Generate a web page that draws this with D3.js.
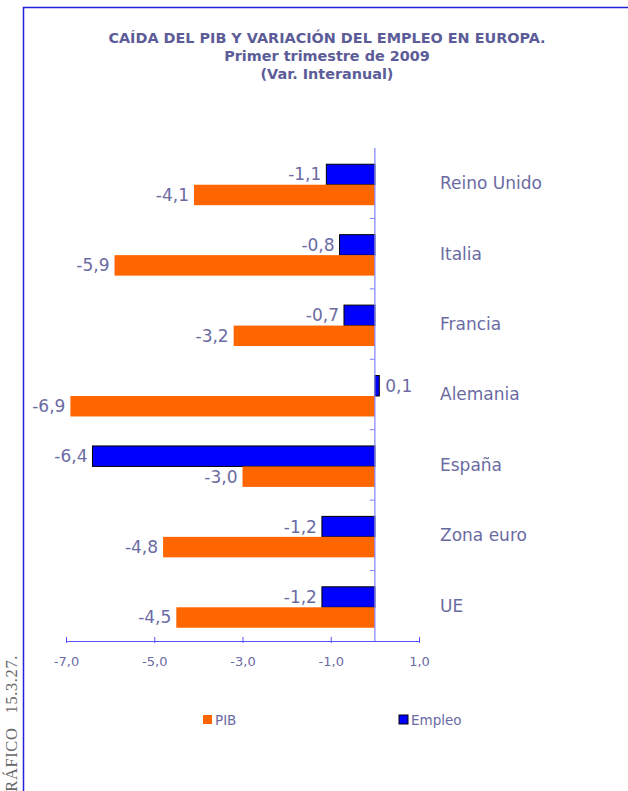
<!DOCTYPE html>
<html>
<head>
<meta charset="utf-8">
<script src="https://cdn.jsdelivr.net/npm/d3@7"></script>
<style>
  body { margin: 0; background: #fff; }
  svg { display: block; font-family: "DejaVu Sans", Verdana, sans-serif; }
</style>
</head>
<body>
<div id="chart"></div>
<script>
(function() {
    const countries = ['Reino Unido', 'Italia', 'Francia', 'Alemania', 'España', 'Zona euro', 'UE'];
    const empleo = [-1.1, -0.8, -0.7, 0.1, -6.4, -1.2, -1.2];
    const pib = [-4.1, -5.9, -3.2, -6.9, -3.0, -4.8, -4.5];
    const xTicks = [-7, -5, -3, -1, 1];
    const titleLines = ['CAÍDA DEL PIB Y VARIACIÓN DEL EMPLEO EN EUROPA.', 'Primer trimestre de 2009', '(Var. Interanual)'];

    const W = 628, H = 791;
    const textColor = '#6b6ba3';
    const fmt = v => d3.format('.1f')(v).replace('.', ',').replace('\u2212', '-');

    let svg = d3.select('#chart')
        .append('svg')
        .attr('width', W)
        .attr('height', H);

    // frame
    svg.append('path')
        .attr('d', 'M23.5,' + H + 'V7.5H' + W)
        .attr('fill', 'none')
        .attr('stroke', '#2222dd')
        .attr('stroke-width', 1.5);

    svg.append('text')
        .attr('transform', 'translate(17,655) rotate(-90)')
        .attr('text-anchor', 'end')
        .attr('font-family', '"Liberation Serif", "DejaVu Serif", serif')
        .attr('font-size', 16.5)
        .attr('fill', '#666')
        .attr('letter-spacing', 0.6)
        .attr('xml:space', 'preserve')
        .text('GRÁFICO   15.3.27.');

    // title
    svg.selectAll('.title')
        .data(titleLines)
        .enter()
        .append('text')
        .attr('class', 'title')
        .attr('x', 327)
        .attr('y', (d, i) => 43 + i * 18)
        .attr('text-anchor', 'middle')
        .attr('font-size', 14.4)
        .attr('font-weight', 'bold')
        .attr('fill', '#5c5c98')
        .text(d => d);

    let x = d3.scaleLinear()
        .domain([-7, 1])
        .range([66, 419]);

    let y = d3.scaleBand()
        .domain(countries)
        .range([148, 641])
        .paddingInner(0)
        .paddingOuter(0);

    let inner = d3.scaleBand()
        .domain(['empleo', 'pib'])
        .range([1.5, y.bandwidth() + 1.5])
        .paddingOuter(0.72)
        .paddingInner(0);

    const series = [
        { key: 'empleo', values: empleo, fill: '#0000ff', stroke: '#000' },
        { key: 'pib', values: pib, fill: '#ff6600', stroke: 'none' }
    ];

    series.forEach(s => {
        let g = svg.append('g');
        g.selectAll('rect')
            .data(countries)
            .enter()
            .append('rect')
            .attr('x', (d, i) => x(Math.min(0, s.values[i])))
            .attr('y', d => y(d) + inner(s.key))
            .attr('width', (d, i) => Math.abs(x(s.values[i]) - x(0)))
            .attr('height', inner.bandwidth())
            .attr('fill', s.fill)
            .attr('stroke', s.stroke)
            .attr('stroke-width', 1);
        g.selectAll('text')
            .data(countries)
            .enter()
            .append('text')
            .attr('x', (d, i) => s.values[i] < 0 ? x(s.values[i]) - 5 : x(s.values[i]) + 6)
            .attr('y', d => y(d) + inner(s.key) + inner.bandwidth() / 2)
            .attr('dy', '0.35em')
            .attr('text-anchor', (d, i) => s.values[i] < 0 ? 'end' : 'start')
            .attr('font-size', 17)
            .attr('fill', textColor)
            .text((d, i) => fmt(s.values[i]));
    });

    // x axis
    let xAxis = svg.append('g')
        .attr('transform', 'translate(0,641)')
        .call(d3.axisBottom(x).tickValues(xTicks).tickSize(5).tickSizeOuter(0).tickFormat(fmt));
    xAxis.select('.domain').attr('stroke', '#5555ff');
    xAxis.selectAll('.tick line').attr('stroke', '#5555ff').attr('y1', -4).attr('y2', 2);
    xAxis.selectAll('.tick text')
        .attr('y', 16)
        .attr('font-size', 13)
        .attr('font-family', '"DejaVu Sans", Verdana, sans-serif')
        .attr('fill', textColor);

    // category axis at zero
    let yAxis = svg.append('g')
        .attr('transform', 'translate(' + x(0) + ',0)');
    yAxis.append('line')
        .attr('y1', 148)
        .attr('y2', 641)
        .attr('stroke', '#8080ff')
        .attr('stroke-width', 1.2);
    yAxis.selectAll('.sep')
        .data(countries.slice(1))
        .enter()
        .append('line')
        .attr('class', 'sep')
        .attr('x1', -5)
        .attr('x2', 0)
        .attr('y1', d => y(d))
        .attr('y2', d => y(d))
        .attr('stroke', '#8080ff');

    svg.selectAll('.cat')
        .data(countries)
        .enter()
        .append('text')
        .attr('class', 'cat')
        .attr('x', 440)
        .attr('y', d => y(d) + y.bandwidth() / 2)
        .attr('dy', '0.35em')
        .attr('font-size', 17)
        .attr('fill', textColor)
        .text(d => d);

    // legend
    const legend = [
        { label: 'PIB', fill: '#ff6600', stroke: 'none', x: 203 },
        { label: 'Empleo', fill: '#0000ff', stroke: '#000', x: 399 }
    ];
    let lg = svg.selectAll('.legend')
        .data(legend)
        .enter()
        .append('g')
        .attr('class', 'legend')
        .attr('transform', d => 'translate(' + d.x + ',715)');
    lg.append('rect')
        .attr('width', 9)
        .attr('height', 9)
        .attr('fill', d => d.fill)
        .attr('stroke', d => d.stroke);
    lg.append('text')
        .attr('x', 12)
        .attr('y', 5)
        .attr('dy', '0.35em')
        .attr('font-size', 13.5)
        .attr('fill', textColor)
        .text(d => d.label);
})();
</script>
</body>
</html>
